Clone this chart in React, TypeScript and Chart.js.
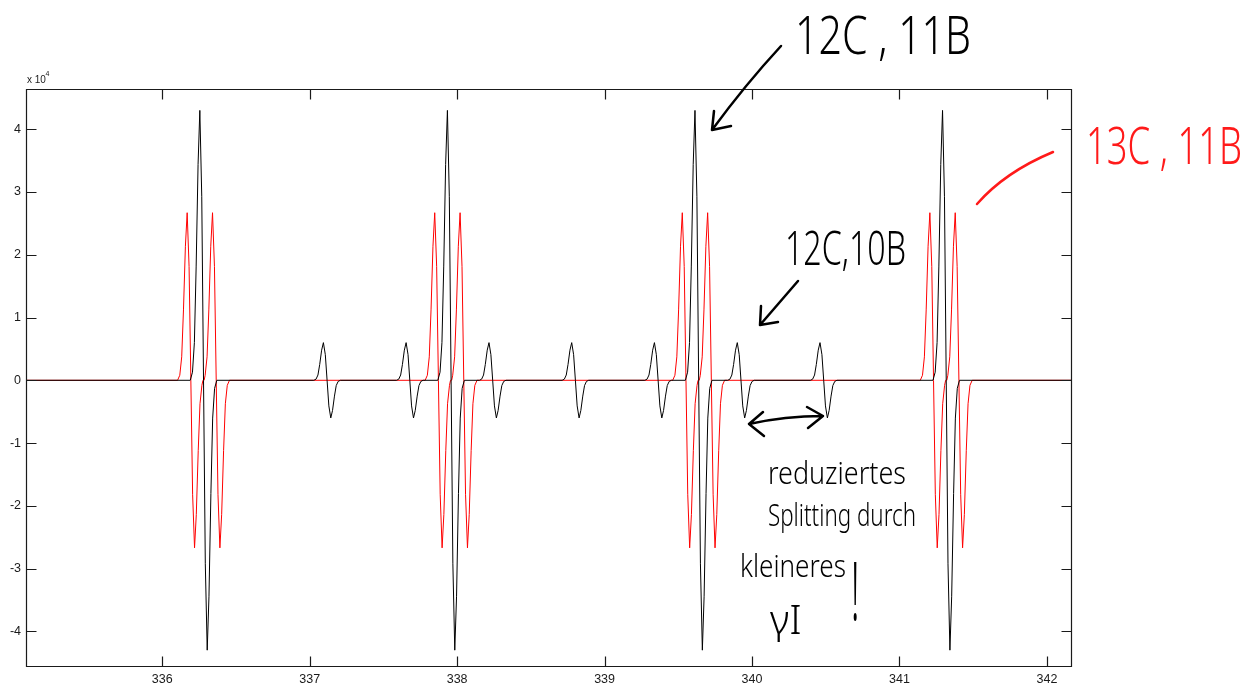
import React, { useEffect, useRef } from "react";
import { Chart, registerables } from "chart.js";

Chart.register(...registerables);

// ---------- data ----------
const xTicks = [336, 337, 338, 339, 340, 341, 342];
const yTicks = [-40000, -30000, -20000, -10000, 0, 10000, 20000, 30000, 40000];
const xRange = [335.076, 342.17];
const yRange = [-45680, 46410];

// zero-crossing positions of the derivative lines (field units)
const centers12C11B = [336.28, 337.959, 339.638, 341.317];
const centers12C10B = [337.118, 337.679, 338.241, 338.802, 339.363, 339.925, 340.486];
const centers13C11B = [336.194, 336.366, 337.873, 338.045, 339.552, 339.724, 341.231, 341.403];

// peak heights
const amp12C11B = 43000;
const amp12C10B = 6000;
const amp13C11B = 26700;

// derivative line shape: offset from centre, relative height
const shapeOffsets = [-0.09, -0.075, -0.062, -0.05, -0.037, -0.025, -0.012, 0, 0.012, 0.025, 0.037, 0.05, 0.062, 0.075, 0.09];
const shapeValues = [0, 0.03, 0.14, 0.42, 0.8, 1, 0.68, 0, -0.68, -1, -0.8, -0.42, -0.14, -0.03, 0];

// handwritten notes
const notes = [
  { text: "12C , 11B", x: 795, y: 54, size: 54, maxWidth: 176, color: "#000" },
  { text: "13C , 11B", x: 1086, y: 164, size: 52, maxWidth: 156, color: "#ff1a1a" },
  { text: "12C,10B", x: 785, y: 265, size: 48, maxWidth: 121, color: "#000" },
  { text: "reduziertes", x: 768, y: 484, size: 32, maxWidth: 138, color: "#000" },
  { text: "Splitting durch", x: 768, y: 526, size: 32, maxWidth: 148, color: "#000" },
  { text: "kleineres", x: 740, y: 577, size: 32, maxWidth: 106, color: "#000" },
  { text: "\u03b3I", x: 770, y: 634, size: 40, maxWidth: 32, color: "#000" },
];

function buildSeries(groups: { centers: number[]; amp: number }[]) {
  const pts: { x: number; y: number }[] = [
    { x: xRange[0], y: 0 },
    { x: xRange[1], y: 0 },
  ];
  groups.forEach((g) => {
    g.centers.forEach((c) => {
      shapeOffsets.forEach((o, i) => {
        pts.push({ x: c + o, y: g.amp * shapeValues[i] });
      });
    });
  });
  pts.sort((a, b) => a.x - b.x);
  return pts;
}

const framePlugin = {
  id: "frame",
  afterDatasetsDraw(chart: any) {
    const { ctx, chartArea: a, scales } = chart;
    const L = Math.round(a.left) + 0.5;
    const R = Math.round(a.right) - 0.5;
    const T = Math.round(a.top) + 0.5;
    const B = Math.round(a.bottom) - 0.5;
    ctx.save();
    ctx.strokeStyle = "#1a1a1a";
    ctx.lineWidth = 1.2;
    ctx.beginPath();
    ctx.rect(L, T, R - L, B - T);
    const tl = 10;
    xTicks.forEach((v) => {
      const px = Math.round(scales.x.getPixelForValue(v)) + 0.5;
      ctx.moveTo(px, B);
      ctx.lineTo(px, B - tl);
      ctx.moveTo(px, T);
      ctx.lineTo(px, T + tl);
    });
    yTicks.forEach((v) => {
      const py = Math.round(scales.y.getPixelForValue(v)) + 0.5;
      ctx.moveTo(L, py);
      ctx.lineTo(L + tl, py);
      ctx.moveTo(R, py);
      ctx.lineTo(R - tl, py);
    });
    ctx.stroke();
    // exponent label
    ctx.fillStyle = "#1a1a1a";
    ctx.textBaseline = "alphabetic";
    ctx.font = "10px 'Liberation Sans', Arial, sans-serif";
    ctx.fillText("x 10", 27, 83);
    ctx.font = "7px 'Liberation Sans', Arial, sans-serif";
    ctx.fillText("4", 45.5, 76);
    ctx.restore();
  },
};

const notesPlugin = {
  id: "notes",
  afterDraw(chart: any) {
    const { ctx } = chart;
    ctx.save();
    ctx.textBaseline = "alphabetic";
    notes.forEach((n) => {
      ctx.fillStyle = n.color;
      ctx.font = `300 ${n.size}px 'Noto Sans', 'DejaVu Sans', sans-serif`;
      ctx.fillText(n.text, n.x, n.y, n.maxWidth);
    });
    // tall exclamation mark
    ctx.save();
    ctx.translate(851, 620);
    ctx.scale(1, 2.4);
    ctx.font = "300 34px 'Noto Sans', 'DejaVu Sans', sans-serif";
    ctx.fillStyle = "#000";
    ctx.fillText("!", 0, 0);
    ctx.restore();

    ctx.lineCap = "round";
    ctx.lineJoin = "round";
    ctx.lineWidth = 2.5;
    // arrow to 12C,11B line
    ctx.strokeStyle = "#000";
    ctx.beginPath();
    ctx.moveTo(781, 46);
    ctx.quadraticCurveTo(745, 85, 712, 130);
    ctx.moveTo(714, 111);
    ctx.lineTo(712, 130);
    ctx.lineTo(731, 126);
    ctx.stroke();
    // arrow to 12C,10B line
    ctx.beginPath();
    ctx.moveTo(798, 281);
    ctx.lineTo(760, 325);
    ctx.moveTo(761, 306);
    ctx.lineTo(760, 325);
    ctx.lineTo(778, 322);
    ctx.stroke();
    // double arrow
    ctx.beginPath();
    ctx.moveTo(749, 424);
    ctx.quadraticCurveTo(785, 416, 823, 416);
    ctx.moveTo(763, 412);
    ctx.lineTo(749, 424);
    ctx.lineTo(764, 436);
    ctx.moveTo(807, 407);
    ctx.lineTo(823, 416);
    ctx.lineTo(808, 428);
    ctx.stroke();
    // red stroke to 13C,11B
    ctx.strokeStyle = "#ff1a1a";
    ctx.beginPath();
    ctx.moveTo(977, 204);
    ctx.quadraticCurveTo(1005, 172, 1053, 152);
    ctx.stroke();
    ctx.restore();
  },
};

export default function App() {
  const ref = useRef<HTMLCanvasElement>(null);
  useEffect(() => {
    if (!ref.current) return;
    const black = buildSeries([
      { centers: centers12C11B, amp: amp12C11B },
      { centers: centers12C10B, amp: amp12C10B },
    ]);
    const red = buildSeries([{ centers: centers13C11B, amp: amp13C11B }]);
    const tickFont = { family: "'Liberation Sans', Arial, sans-serif", size: 12.5 };
    const chart = new Chart(ref.current, {
      type: "line",
      data: {
        datasets: [
          {
            label: "12C",
            data: black,
            borderColor: "#000",
            borderWidth: 1,
            pointRadius: 0,
            tension: 0,
            order: 0,
          },
          {
            label: "13C",
            data: red,
            borderColor: "#ff0000",
            borderWidth: 1,
            pointRadius: 0,
            tension: 0,
            order: 1,
          },
        ],
      },
      options: {
        animation: false,
        responsive: false,
        devicePixelRatio: 1,
        events: [],
        layout: { padding: { left: 0, top: 89, right: 178, bottom: 0 } },
        plugins: { legend: { display: false }, tooltip: { enabled: false } },
        scales: {
          x: {
            type: "linear",
            min: xRange[0],
            max: xRange[1],
            grid: { display: false, drawTicks: false },
            border: { display: false },
            ticks: { font: tickFont, color: "#1a1a1a", padding: 5, maxRotation: 0 },
            afterBuildTicks: (s: any) => {
              s.ticks = xTicks.map((v) => ({ value: v }));
            },
            afterFit: (s: any) => {
              s.height = 31;
            },
          },
          y: {
            type: "linear",
            min: yRange[0],
            max: yRange[1],
            grid: { display: false, drawTicks: false },
            border: { display: false },
            ticks: {
              font: tickFont,
              color: "#1a1a1a",
              padding: 5,
              callback: (v: any) => String(Math.round(Number(v) / 10000)),
            },
            afterBuildTicks: (s: any) => {
              s.ticks = yTicks.map((v) => ({ value: v }));
            },
            afterFit: (s: any) => {
              s.width = 26;
            },
          },
        },
      },
      plugins: [framePlugin, notesPlugin],
    });
    return () => chart.destroy();
  }, []);
  return (
    <div style={{ position: "absolute", left: 0, top: 0, width: 1250, height: 698, background: "#fff" }}>
      <canvas ref={ref} width={1250} height={698} style={{ display: "block" }} />
    </div>
  );
}
